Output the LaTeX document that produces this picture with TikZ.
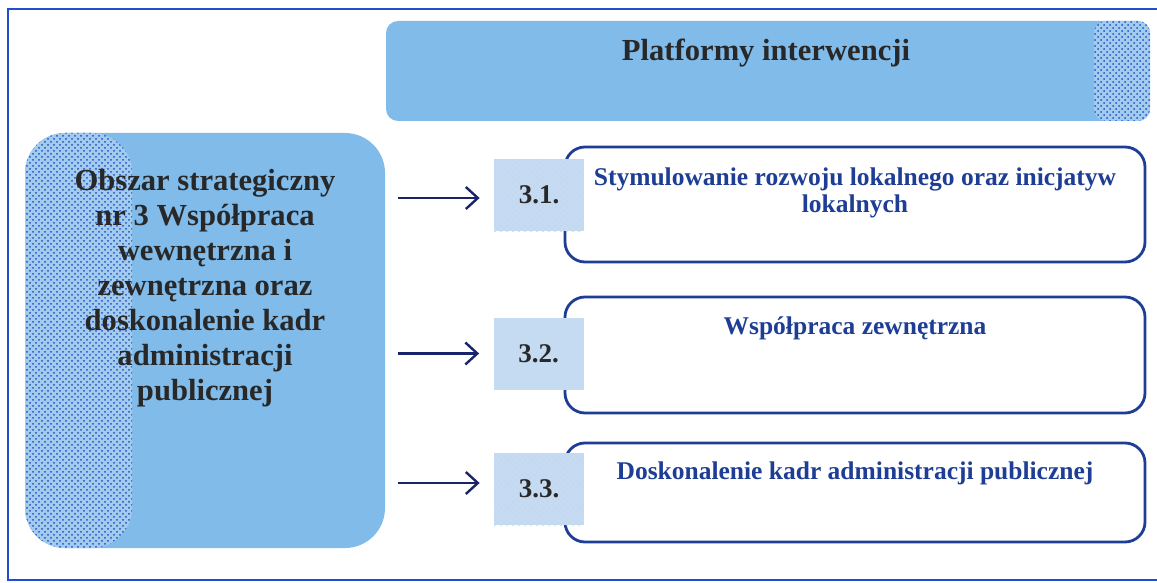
\documentclass[tikz,border=0pt]{standalone}
\usepackage{fontspec}
\setmainfont{Liberation Serif}
\usepackage{tikz}
\usetikzlibrary{arrows.meta}
\usetikzlibrary{patterns}
\definecolor{jasny}{RGB}{128,187,234}
\definecolor{blady}{RGB}{196,219,242}
\definecolor{plamki}{RGB}{30,80,200}
\definecolor{granat}{RGB}{30,62,150}
\definecolor{ramka}{RGB}{30,80,205}
\definecolor{strzalka}{RGB}{25,35,105}
\definecolor{czarny}{RGB}{40,40,40}
\tikzset{pole/.style={fill=jasny,rounded corners=20pt,inner sep=0pt}}
\tikzset{plamyl/.style={path picture={
  \fill[blady!50!jasny] (path picture bounding box.south west) rectangle ([xshift=#1]path picture bounding box.north west);
  \fill[pattern=crosshatch dots,pattern color=plamki] (path picture bounding box.south west) rectangle ([xshift=#1]path picture bounding box.north west);}}}
\tikzset{plamyp/.style={path picture={
  \fill[blady!50!jasny] (path picture bounding box.north east) rectangle ([xshift=-#1]path picture bounding box.south east);
  \fill[pattern=crosshatch dots,pattern color=plamki] (path picture bounding box.north east) rectangle ([xshift=-#1]path picture bounding box.south east);}}}
\tikzset{okno/.style={draw=granat,line width=1.4pt,fill=white,rounded corners=10pt,minimum width=290pt,inner sep=0pt}}
\tikzset{kwadrat/.style={fill=blady,minimum width=45pt,minimum height=36pt,inner sep=0pt,text=czarny,font=\fontsize{13.5}{14}\selectfont\bfseries}}
\tikzset{lewy/.style={align=center,text=czarny,inner sep=0pt,font=\fontsize{15.3}{17.5}\selectfont\bfseries}}
\tikzset{opis/.style={align=center,text=granat,inner sep=0pt,font=\fontsize{12.75}{13.5}\selectfont\bfseries}}
\tikzset{strz/.style={-{Straight Barb[length=6pt,width=11pt]},draw=strzalka,line width=1.2pt,shorten <=6.5pt,shorten >=7pt}}

\begin{document}
\begin{tikzpicture}[x=0.5pt,y=-0.5pt]
  \useasboundingbox (0,0) rectangle (1157,583);
  \draw[ramka,line width=1pt] (1157,9) -- (8,9) -- (8,580) -- (1157,580);
  \node[pole,plamyl=53.5pt,minimum width=180pt,minimum height=207.5pt] (obszar) at (205,340.5) {};
  \node[lewy] (obszartxt) at (205,288) {Obszar strategiczny\\nr 3 Współpraca\\wewnętrzna i\\zewnętrzna oraz\\doskonalenie kadr\\administracji\\publicznej};
  \node[pole,rounded corners=6pt,plamyp=28pt,minimum width=382pt,minimum height=50pt] (platformy) at (768,71) {};
  \node[text=czarny,inner sep=0pt,font=\fontsize{15.3}{17}\selectfont\bfseries] (platformytxt) at (766,53) {Platformy interwencji};
  \node[okno,minimum height=57.5pt] (o1) at (855,204.5) {};
  \node[okno,minimum height=58pt] (o2) at (855,355) {};
  \node[okno,minimum height=49.5pt] (o3) at (855,492.5) {};
  \node[opis] (t1) at (855,193) {Stymulowanie rozwoju lokalnego oraz inicjatyw\\lokalnych};
  \node[opis] (t2) at (855,328) {Współpraca zewnętrzna};
  \node[opis] (t3) at (855,473) {Doskonalenie kadr administracji publicznej};
  \node[kwadrat,postaction={pattern=crosshatch dots,pattern color=plamki!25}] (s1) at (539,195) {3.1.};
  \node[kwadrat] (s2) at (538.5,353.5) {3.2.};
  \node[kwadrat,postaction={pattern=crosshatch dots,pattern color=plamki!25}] (s3) at (539,489) {3.3.};
  \draw[strz] (obszar.east |- s1.west) ++(0,3) -- ([yshift=-1.5pt]s1.west);
  \draw[strz] (obszar.east |- s2.west) -- (s2.west);
  \draw[strz] (obszar.east |- s3.west) ++(0,-6) -- ([yshift=3pt]s3.west);
\end{tikzpicture}
\end{document}
